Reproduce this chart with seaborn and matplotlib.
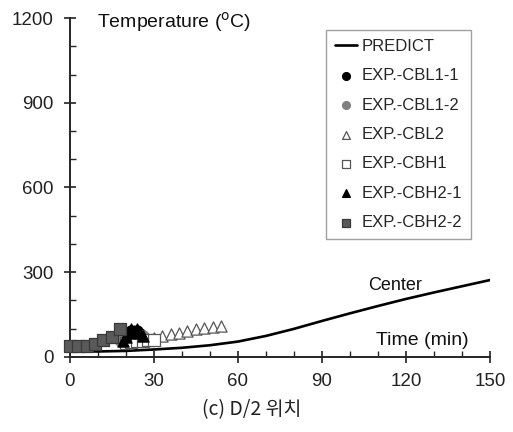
import matplotlib
matplotlib.use("Agg")
import matplotlib.pyplot as plt
import seaborn as sns
import pandas as pd
from matplotlib.ticker import MultipleLocator

# ---- data ----
time_pred = [0, 10, 20, 30, 40, 50, 60, 70, 80, 90, 100, 110, 120, 130, 140, 150]
temp_pred = [19, 19, 21, 26, 32, 41, 54, 74, 99, 127, 154, 180, 205, 228, 250, 272]

t_cbl11 = [20, 21, 22, 23, 24, 25]
T_cbl11 = [75, 85, 90, 88, 92, 80]

t_cbl12 = [18, 20, 22, 24, 26]
T_cbl12 = [60, 70, 78, 82, 75]

t_cbl2 = [27, 30, 33, 36, 39, 42, 45, 48, 51, 54]
T_cbl2 = [60, 67, 74, 80, 86, 92, 97, 102, 106, 110]

t_cbh1 = [20, 22, 24, 26, 28, 30]
T_cbh1 = [50, 52, 55, 55, 58, 60]

t_cbh21 = [19, 20, 21, 22, 23, 24, 25, 26]
T_cbh21 = [55, 70, 85, 98, 90, 100, 85, 75]

t_cbh22 = [0, 3, 6, 9, 12, 15, 18]
T_cbh22 = [38, 38, 40, 45, 58, 70, 100]

x_ticks = [0, 30, 60, 90, 120, 150]
y_ticks = [0, 300, 600, 900, 1200]

sns.set_style("ticks")
plt.rcParams['font.family'] = ['Liberation Sans', 'DejaVu Sans']

fig = plt.figure(figsize=(5.13, 4.32), dpi=100)
ax = fig.add_axes([0.136, 0.174, 0.819, 0.784])

pred = pd.DataFrame({"t": time_pred, "T": temp_pred})
sns.lineplot(data=pred, x="t", y="T", ax=ax, color="black", linewidth=1.9,
             label="PREDICT")

series = [
    ("EXP.-CBL1-1", t_cbl11, T_cbl11, "o", "black", "black"),
    ("EXP.-CBL1-2", t_cbl12, T_cbl12, "o", "#808080", "#808080"),
    ("EXP.-CBL2", t_cbl2, T_cbl2, "^", "white", "#555555"),
    ("EXP.-CBH1", t_cbh1, T_cbh1, "s", "white", "#555555"),
    ("EXP.-CBH2-1", t_cbh21, T_cbh21, "^", "black", "black"),
    ("EXP.-CBH2-2", t_cbh22, T_cbh22, "s", "#5a5a5a", "#3a3a3a"),
]
for name, t, T, m, fc, ec in series:
    df = pd.DataFrame({"t": t, "T": T})
    sns.scatterplot(data=df, x="t", y="T", ax=ax, marker=m, s=65,
                    facecolor=fc, edgecolor=ec, linewidth=0.9,
                    label=name, clip_on=False, zorder=3)

ax.set_xlim(0, 150)
ax.set_ylim(0, 1200)
ax.set_xticks(x_ticks)
ax.set_yticks(y_ticks)
ax.xaxis.set_minor_locator(MultipleLocator(10))
ax.yaxis.set_minor_locator(MultipleLocator(100))
ax.tick_params(which="major", direction="inout", length=9, width=1.2,
               labelsize=13.5, colors="#222222")
ax.tick_params(which="minor", direction="in", length=4, width=1.0)
ax.tick_params(axis="x", pad=7)
ax.tick_params(axis="y", pad=7)
ax.set_xlabel("")
ax.set_ylabel("")
for s in ["top", "right"]:
    ax.spines[s].set_visible(False)
for s in ["left", "bottom"]:
    ax.spines[s].set_linewidth(1.4)

ax.text(0.064, 0.988, r"Temperature ($^{\mathrm{o}}$C)", transform=ax.transAxes,
        fontsize=14, ha="left", va="center", color="#111111")
ax.text(0.95, 0.047, "Time (min)", transform=ax.transAxes,
        fontsize=14, ha="right", va="center", color="#111111")
ax.text(0.775, 0.21, "Center", transform=ax.transAxes,
        fontsize=13, ha="center", va="center", color="#111111")

leg = ax.legend(loc="upper right", bbox_to_anchor=(0.968, 0.98),
                frameon=True, fancybox=False, fontsize=12,
                labelspacing=0.86, handlelength=1.3, handletextpad=0.3,
                borderpad=0.55, borderaxespad=0.3, markerscale=0.7)
leg.get_frame().set_edgecolor("#888888")
leg.get_frame().set_linewidth(1.0)

fig.text(0.49, 0.051, "(c) D/2 위치", fontsize=14, ha="center", va="center",
         family=["Noto Sans CJK KR", "DejaVu Sans"], color="#222222")

fig.savefig("out.png", dpi=100, facecolor="white")
